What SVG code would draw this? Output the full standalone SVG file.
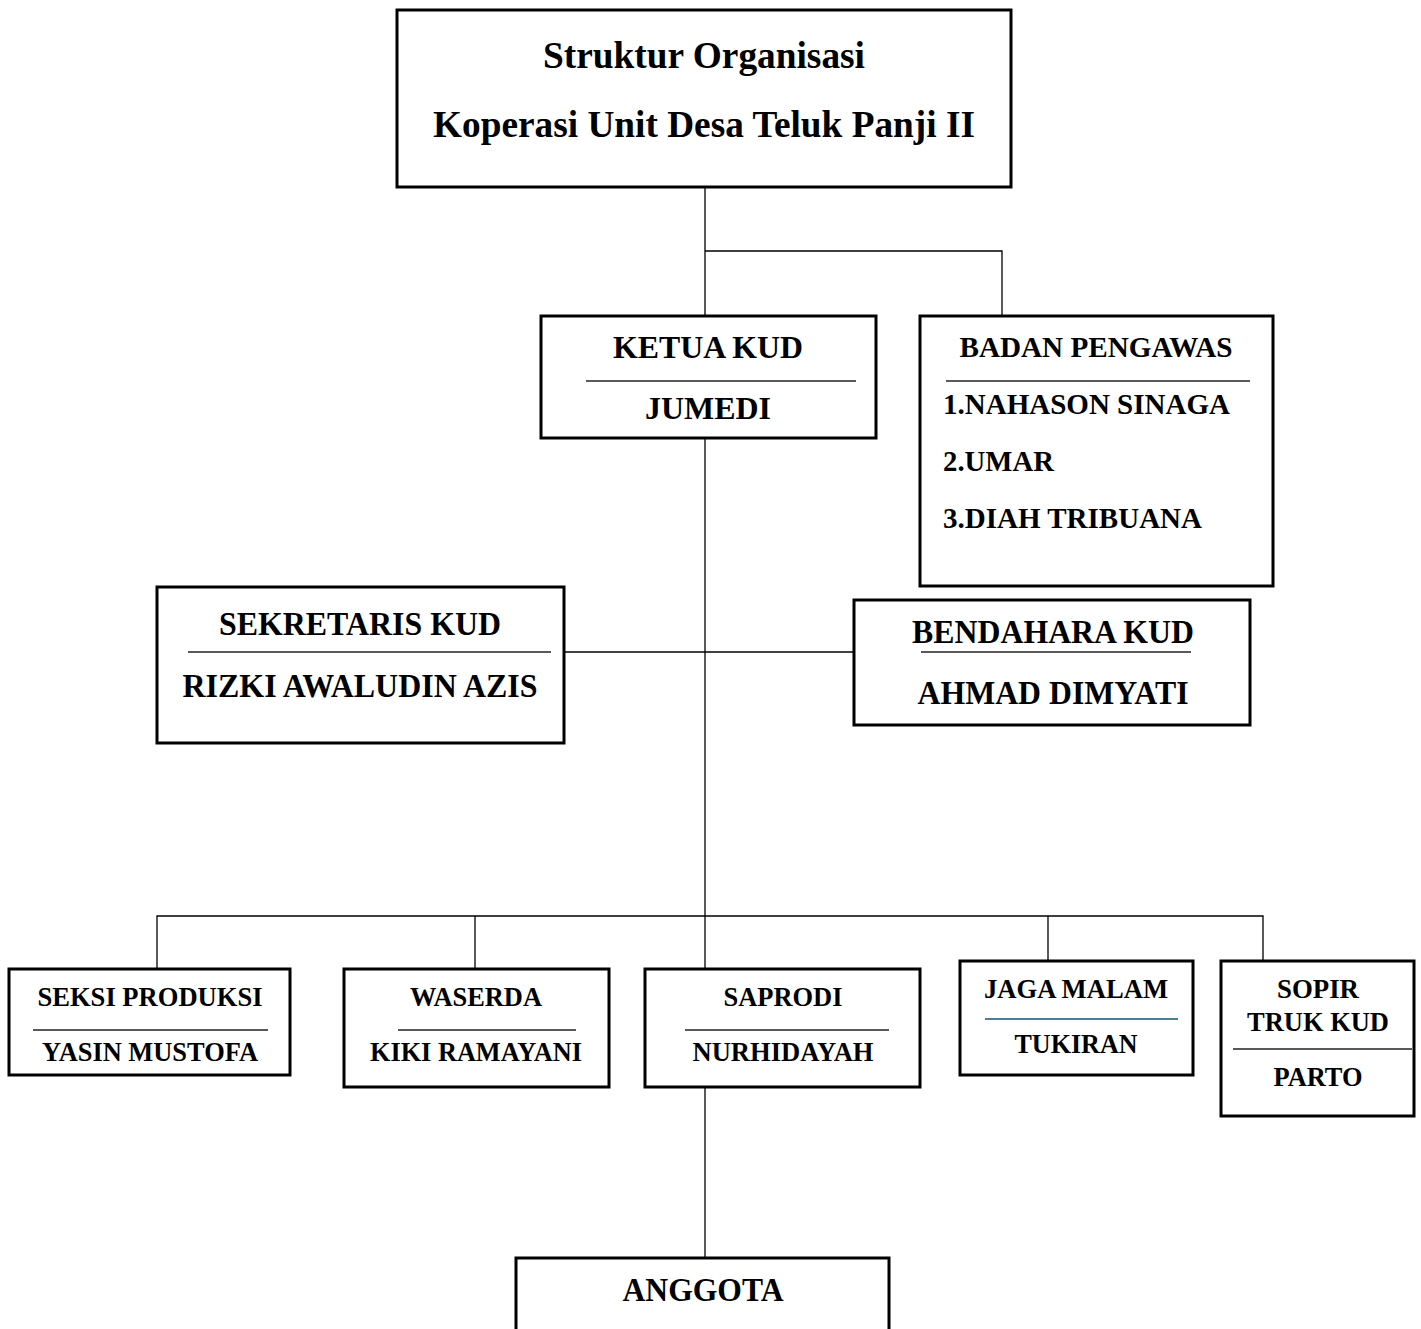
<svg xmlns="http://www.w3.org/2000/svg" width="1421" height="1329" viewBox="0 0 1421 1329">
<style>
.box{fill:#fff;stroke:#000;stroke-width:3}
.sep{stroke:#222;stroke-width:1.5}
.con{fill:none;stroke:#000;stroke-width:1.3}
text{font-family:"Liberation Serif","Times New Roman",serif;font-weight:bold;fill:#000}
.c{text-anchor:middle}
.t{font-size:37px}
.m{font-size:33px}
.k{font-size:31px}
.s{font-size:27px}
</style>
<rect width="1421" height="1329" fill="#fff"/>
<g id="connectors">
<path class="con" d="M705 187V316M705 251H1002V316"/>
<path class="con" d="M705 438V969"/>
<path class="con" d="M564 652H854"/>
<path class="con" d="M157 969V916H1263V961M475 916V969M1048 916V961"/>
<path class="con" d="M705 1087V1258"/>
</g>
<g id="title">
<rect class="box" x="397" y="10" width="614" height="177"/>
<text class="c t" x="704" y="68" textLength="322" lengthAdjust="spacingAndGlyphs">Struktur Organisasi</text>
<text class="c t" x="704" y="137" textLength="542" lengthAdjust="spacingAndGlyphs">Koperasi Unit Desa Teluk Panji II</text>
</g>
<g id="ketua">
<rect class="box" x="541" y="316" width="335" height="122"/>
<text class="c k" x="708" y="358" textLength="190" lengthAdjust="spacingAndGlyphs">KETUA KUD</text>
<line class="sep" x1="586" y1="381" x2="856" y2="381"/>
<text class="c k" x="708" y="419" textLength="126" lengthAdjust="spacingAndGlyphs">JUMEDI</text>
</g>
<g id="badan">
<rect class="box" x="920" y="316" width="353" height="270"/>
<text class="c k" x="1096" y="357" textLength="273" lengthAdjust="spacingAndGlyphs" style="font-size:29px">BADAN PENGAWAS</text>
<line class="sep" x1="946" y1="381" x2="1250" y2="381"/>
<text class="k" x="943" y="414" textLength="287" lengthAdjust="spacingAndGlyphs" style="font-size:29px">1.NAHASON SINAGA</text>
<text class="k" x="943" y="471" textLength="111" lengthAdjust="spacingAndGlyphs" style="font-size:29px">2.UMAR</text>
<text class="k" x="943" y="528" textLength="259" lengthAdjust="spacingAndGlyphs" style="font-size:29px">3.DIAH TRIBUANA</text>
</g>
<g id="sekretaris">
<rect class="box" x="157" y="587" width="407" height="156"/>
<text class="c m" x="360" y="635" textLength="282" lengthAdjust="spacingAndGlyphs">SEKRETARIS KUD</text>
<line class="sep" x1="188" y1="652" x2="551" y2="652"/>
<text class="c m" x="360" y="697" textLength="355" lengthAdjust="spacingAndGlyphs">RIZKI AWALUDIN AZIS</text>
</g>
<g id="bendahara">
<rect class="box" x="854" y="600" width="396" height="125"/>
<text class="c m" x="1053" y="643" textLength="282" lengthAdjust="spacingAndGlyphs">BENDAHARA KUD</text>
<line class="sep" x1="921" y1="652" x2="1191" y2="652"/>
<text class="c m" x="1053" y="704" textLength="271" lengthAdjust="spacingAndGlyphs">AHMAD DIMYATI</text>
</g>
<g id="seksi-produksi">
<rect class="box" x="9" y="969" width="281" height="106"/>
<text class="c s" x="150" y="1006" textLength="225" lengthAdjust="spacingAndGlyphs">SEKSI PRODUKSI</text>
<line class="sep" x1="33" y1="1030" x2="268" y2="1030"/>
<text class="c s" x="150" y="1061" textLength="216" lengthAdjust="spacingAndGlyphs">YASIN MUSTOFA</text>
</g>
<g id="waserda">
<rect class="box" x="344" y="969" width="265" height="118"/>
<text class="c s" x="476" y="1006" textLength="132" lengthAdjust="spacingAndGlyphs">WASERDA</text>
<line class="sep" x1="398" y1="1030" x2="576" y2="1030"/>
<text class="c s" x="476" y="1061" textLength="212" lengthAdjust="spacingAndGlyphs">KIKI RAMAYANI</text>
</g>
<g id="saprodi">
<rect class="box" x="645" y="969" width="275" height="118"/>
<text class="c s" x="783" y="1006" textLength="119" lengthAdjust="spacingAndGlyphs">SAPRODI</text>
<line class="sep" x1="685" y1="1030" x2="889" y2="1030"/>
<text class="c s" x="783" y="1061" textLength="181" lengthAdjust="spacingAndGlyphs">NURHIDAYAH</text>
</g>
<g id="jaga-malam">
<rect class="box" x="960" y="961" width="233" height="114"/>
<text class="c s" x="1076" y="998" textLength="184" lengthAdjust="spacingAndGlyphs">JAGA MALAM</text>
<line x1="985" y1="1019" x2="1178" y2="1019" stroke="#4a7f99" stroke-width="1.8"/>
<text class="c s" x="1076" y="1053" textLength="123" lengthAdjust="spacingAndGlyphs">TUKIRAN</text>
</g>
<g id="sopir">
<rect class="box" x="1221" y="961" width="193" height="155"/>
<text class="c s" x="1318" y="998" textLength="82" lengthAdjust="spacingAndGlyphs">SOPIR</text>
<text class="c s" x="1318" y="1031" textLength="142" lengthAdjust="spacingAndGlyphs">TRUK KUD</text>
<line class="sep" x1="1233" y1="1049" x2="1412" y2="1049"/>
<text class="c s" x="1318" y="1086" textLength="89" lengthAdjust="spacingAndGlyphs">PARTO</text>
</g>
<g id="anggota">
<rect class="box" x="516" y="1258" width="373" height="90"/>
<text class="c m" x="703" y="1301" textLength="161" lengthAdjust="spacingAndGlyphs">ANGGOTA</text>
</g>
</svg>
